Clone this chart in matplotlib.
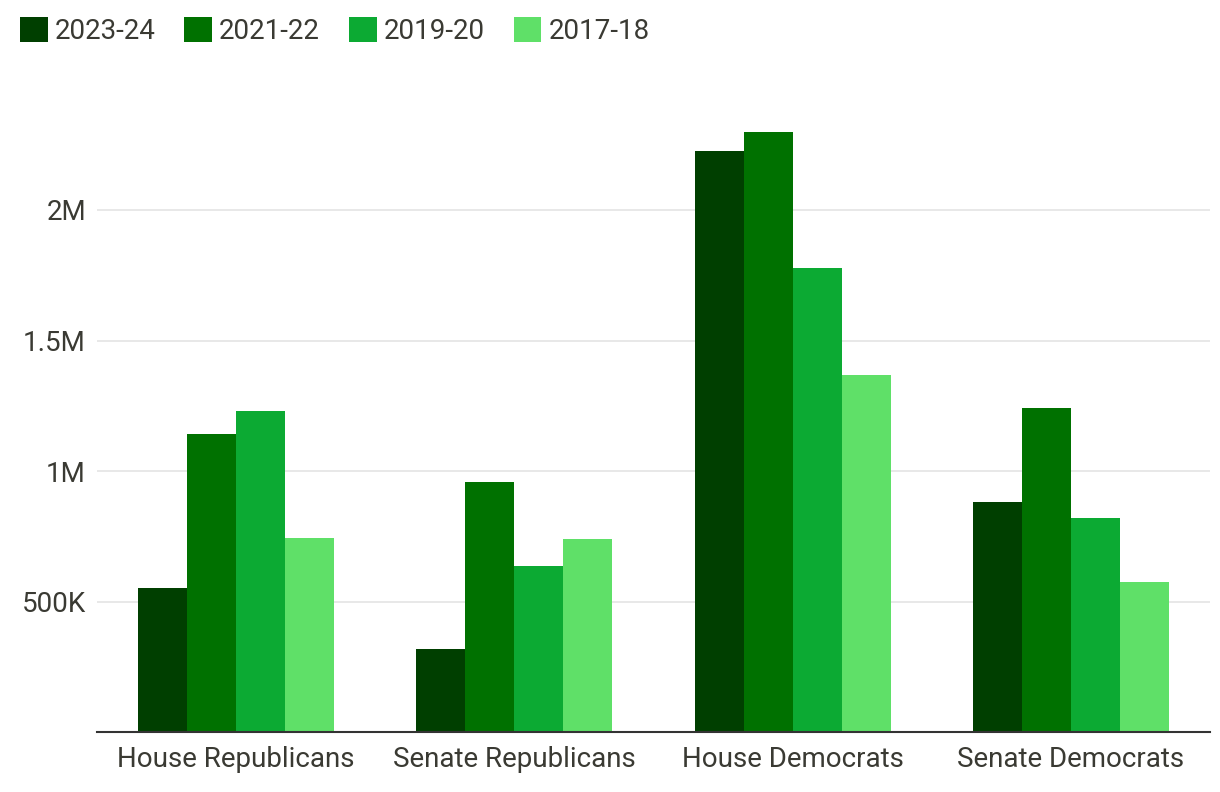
import numpy as np
import matplotlib
matplotlib.use("Agg")
import matplotlib.pyplot as plt
from matplotlib.ticker import FixedLocator

plt.rcParams['font.family'] = ['Roboto', 'DejaVu Sans']

categories = ["House Republicans", "Senate Republicans", "House Democrats", "Senate Democrats"]
series_names = ["2023-24", "2021-22", "2019-20", "2017-18"]
v_2023_24 = [552_000, 318_000, 2_226_000, 881_000]
v_2021_22 = [1_142_000, 958_000, 2_299_000, 1_241_000]
v_2019_20 = [1_230_000, 636_000, 1_778_000, 820_000]
v_2017_18 = [743_000, 739_000, 1_368_000, 575_000]
series_values = [v_2023_24, v_2021_22, v_2019_20, v_2017_18]

y_ticks = [500_000, 1_000_000, 1_500_000, 2_000_000]
y_tick_labels = ["500K", "1M", "1.5M", "2M"]

colors = ["#003f00", "#007100", "#0caa33", "#5fe068"]
text_color = "#3a3a33"

fig = plt.figure(figsize=(12.2, 7.92), dpi=100)
ax = fig.add_axes([97/1220, 60/792, (1210-97)/1220, (732-79.5)/792])

x = np.arange(len(categories))
bw = 0.176
for i, (name, vals) in enumerate(zip(series_names, series_values)):
    ax.bar(x + (i - 1.5) * bw, vals, width=bw, color=colors[i], label=name, zorder=2)

ax.set_xlim(-0.5, len(categories) - 0.5)
ax.set_ylim(0, 2_500_000)
ax.yaxis.set_major_locator(FixedLocator(y_ticks))
ax.set_yticklabels(y_tick_labels)
ax.set_xticks(x)
ax.set_xticklabels(categories)
ax.tick_params(axis='both', length=0, labelsize=20, colors=text_color)
ax.tick_params(axis='y', pad=8)
ax.tick_params(axis='x', pad=10)
ax.grid(axis='y', color="#e6e6e6", linewidth=1.3, zorder=0)
for s in ["top", "right", "left"]:
    ax.spines[s].set_visible(False)
ax.spines["bottom"].set_color("#333333")
ax.spines["bottom"].set_linewidth(1.5)
ax.spines["bottom"].set_zorder(3)

fig.legend(loc="upper left", bbox_to_anchor=(20/1220, 1 - 17/792), ncol=4, frameon=False,
           fontsize=20, handlelength=1.0, handleheight=1.0, handletextpad=0.25,
           columnspacing=1.04, borderpad=0, borderaxespad=0, labelcolor=text_color)

fig.savefig("out.png", dpi=100)
